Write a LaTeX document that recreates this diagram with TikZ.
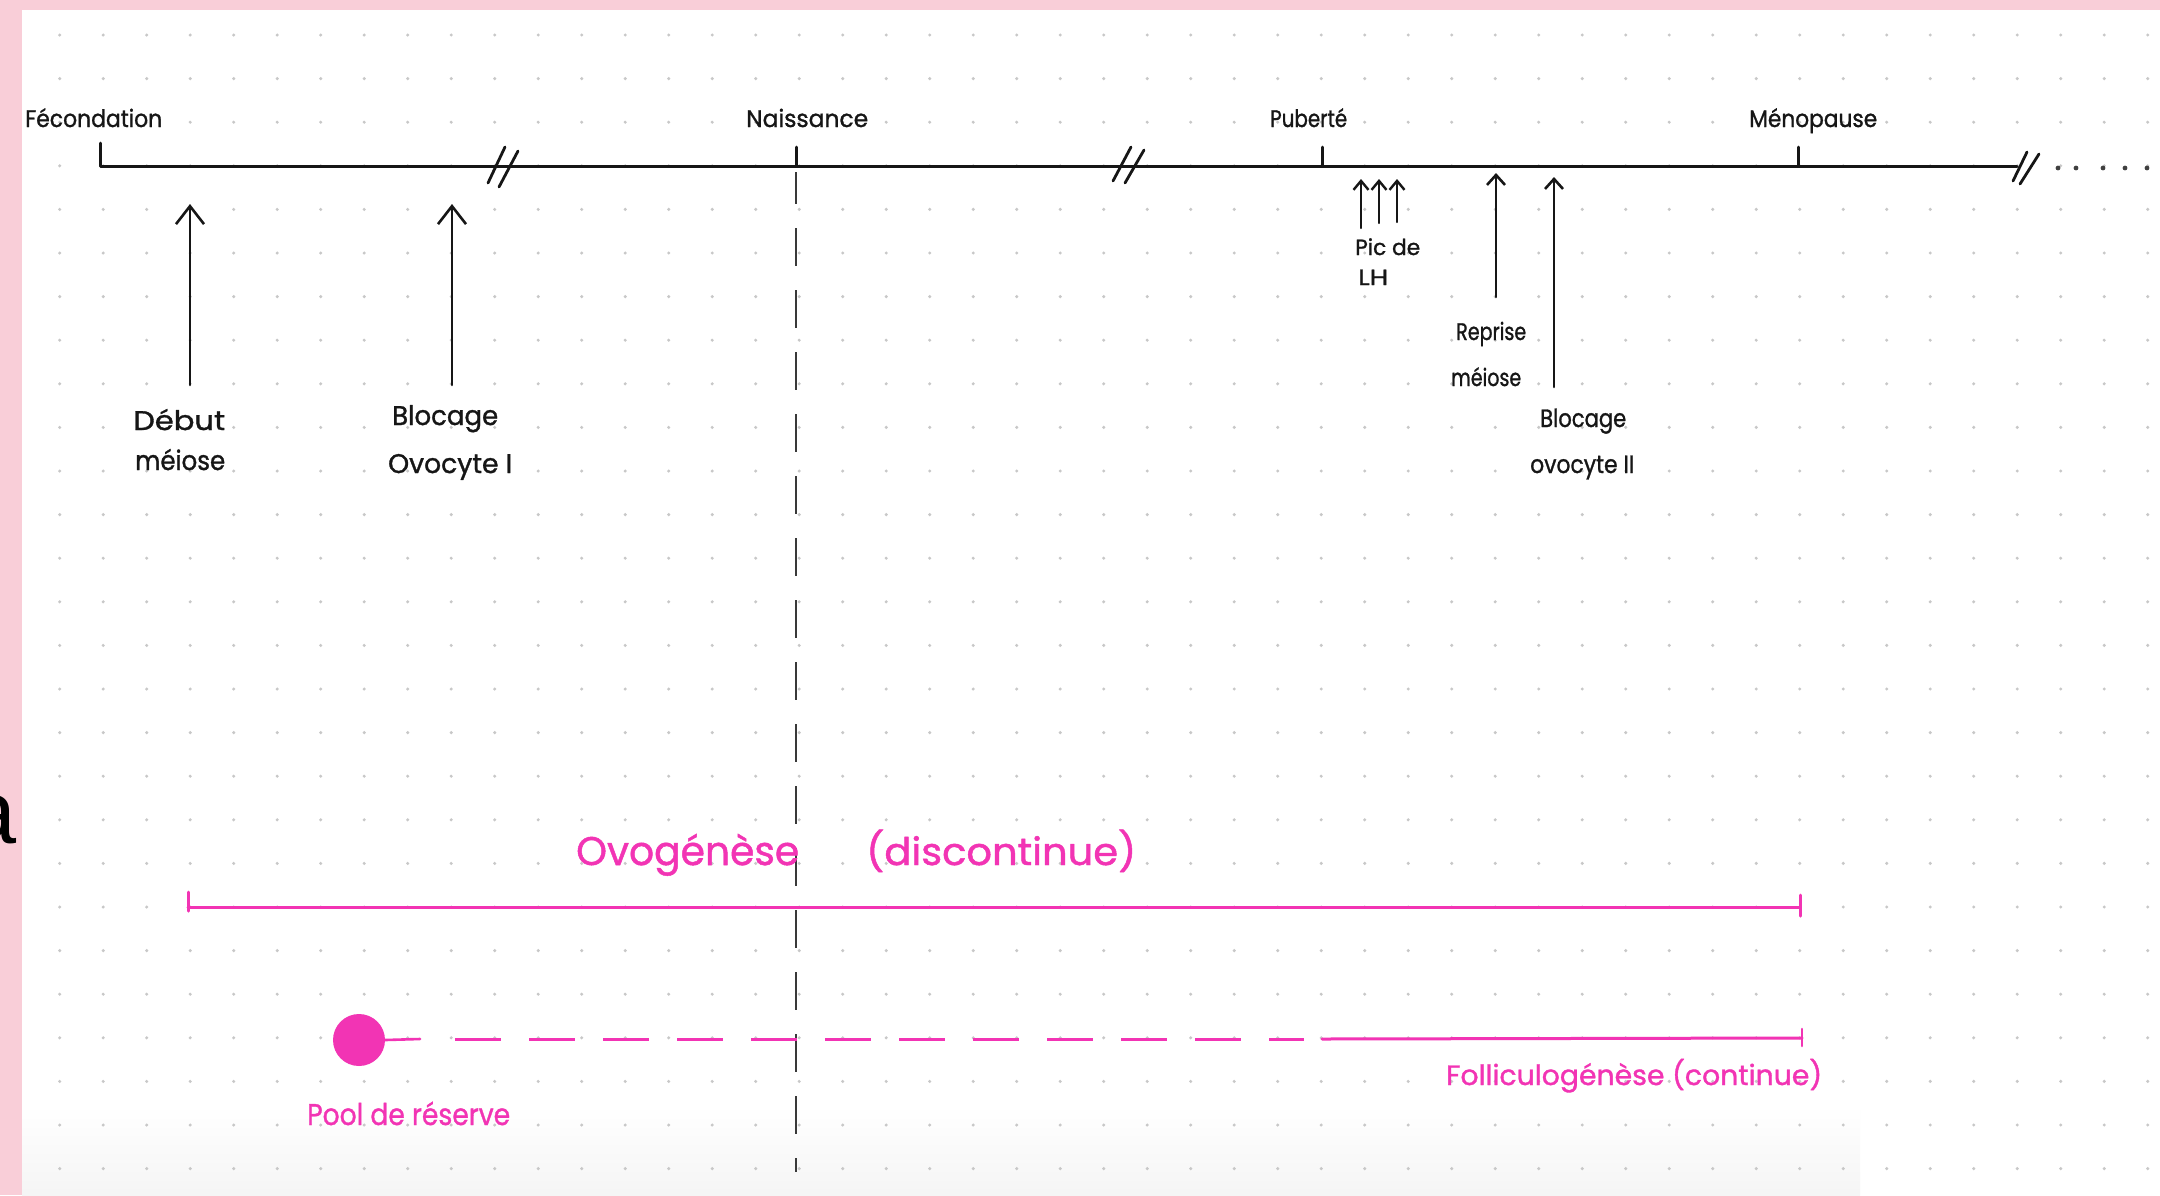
\documentclass[tikz,border=0pt]{standalone}
\usepackage{fontspec}
\usepackage{graphicx}
\newfontfamily\hand[FakeBold=1.2]{Poppins}
\newfontfamily\plain{Liberation Sans}
\usetikzlibrary{arrows.meta}
\definecolor{paper}{RGB}{249,206,216}
\definecolor{ink}{RGB}{22,22,22}
\definecolor{rose}{RGB}{242,52,180}
\definecolor{dotc}{RGB}{200,200,200}
% squeeze a text to a given width, keeping its height
\newcommand\fitto[2]{\resizebox{#1pt}{\height}{#2}}
\tikzset{
  lbl/.style={inner sep=0pt, anchor=base west, text=ink},
  pinklbl/.style={inner sep=0pt, anchor=base west, text=rose},
  fs/.style={font=\hand\fontsize{#1pt}{#1pt}\selectfont},
  axis/.style={draw=ink, line width=3pt},
  brk/.style={draw=ink, line width=2.8pt},
  bigup/.style={draw=ink, line width=2.6pt, -{Straight Barb[length=18pt,width=28pt]}},
  midup/.style={draw=ink, line width=2.6pt, -{Straight Barb[length=10pt,width=18pt]}},
  tinyup/.style={draw=ink, line width=2.4pt, -{Straight Barb[length=9pt,width=15pt]}},
  rline/.style={draw=rose, line width=3pt},
}
\begin{document}
\begin{tikzpicture}[x=1pt, y=-1pt, line cap=round, line join=round]
\useasboundingbox (0,0) rectangle (2160,1195);
\fill[white] (0,0) rectangle (2160,1195);

% soft grey at the foot of the page
\shade[top color=white, bottom color=black!4] (22,1105) rectangle (1860,1195);

% dotted notebook grid
\foreach \j in {0,...,48}
  \foreach \k in {0,...,26}
    \fill[dotc] (59.7+43.5*\j, 35+43.6*\k) circle (1.7);

% pink frame
\fill[paper] (0,0) rectangle (2160,10);
\fill[paper] (0,0) rectangle (22,1195);
\begin{scope}
  \clip (0,0) rectangle (22,1195);
  \node[anchor=base east, inner sep=0pt, text=black,
        font=\plain\fontsize{90pt}{90pt}\selectfont] (cut) at (17,843) {a};
\end{scope}

% ---------- timeline ----------
\coordinate (fecT) at (100,143);
\coordinate (fecB) at (100,166);
\coordinate (axEnd) at (2017,166);
\draw[axis] (fecT) -- (fecB) -- (axEnd);

\coordinate (naiT) at (796,147);  \coordinate (naiB) at (796,166);
\coordinate (pubT) at (1322,147); \coordinate (pubB) at (1322,166);
\coordinate (menT) at (1798,147); \coordinate (menB) at (1798,166);
\draw[axis] (naiT) -- (naiB);
\draw[axis] (pubT) -- (pubB);
\draw[axis] (menT) -- (menB);

% breaks in the time axis
\draw[brk] (488,183) -- (505,147);  \draw[brk] (499,187) -- (518,151);
\draw[brk] (1113,181) -- (1131,147); \draw[brk] (1125,183) -- (1144,150);
\draw[brk] (2013,181) -- (2027,152); \draw[brk] (2020,184) -- (2039,154);

% trailing dots
\foreach \xx in {2058,2076,2103,2125,2147}
  \fill[black!75] (\xx,168) circle (2.4);

% birth: dashed vertical
\coordinate (birthTop) at (796,172);
\coordinate (birthBot) at (796,1172);
\draw[draw=ink!85, line width=2.4pt, line cap=butt, dash pattern=on 38pt off 24pt, dash phase=6pt]
  (birthTop) -- (birthBot);

% axis labels
\node[lbl,fs=24] (fec)  at (25,127)   {\fitto{137}{Fécondation}};
\node[lbl,fs=24] (nai)  at (746,127)  {\fitto{122}{Naissance}};
\node[lbl,fs=24] (pub)  at (1270,127) {\fitto{77}{Puberté}};
\node[lbl,fs=24] (meno) at (1749,127) {\fitto{128}{Ménopause}};

% ---------- events ----------
\node[lbl,fs=27] (deb1) at (133,430) {\fitto{92}{Début}};
\node[lbl,fs=27] (deb2) at (135,470) {\fitto{90}{méiose}};
\coordinate (debS) at (190,385); \coordinate (debE) at (190,204);
\draw[bigup] (debS) -- (debE);

\node[lbl,fs=27] (bl1) at (392,425) {\fitto{106}{Blocage}};
\node[lbl,fs=27] (bl2) at (388,473) {\fitto{124}{Ovocyte I}};
\coordinate (blS) at (452,385); \coordinate (blE) at (452,204);
\draw[bigup] (blS) -- (blE);

\node[lbl,fs=22] (pic1) at (1355,255) {\fitto{65}{Pic de}};
\node[lbl,fs=22] (pic2) at (1358,285) {\fitto{30}{LH}};
\coordinate (lhS1) at (1361,228); \coordinate (lhE1) at (1361,179);
\coordinate (lhS2) at (1379,223); \coordinate (lhE2) at (1379,179);
\coordinate (lhS3) at (1397,222); \coordinate (lhE3) at (1397,179);
\draw[tinyup] (lhS1) -- (lhE1);
\draw[tinyup] (lhS2) -- (lhE2);
\draw[tinyup] (lhS3) -- (lhE3);

\node[lbl,fs=24] (rep1) at (1456,340) {\fitto{70}{Reprise}};
\node[lbl,fs=24] (rep2) at (1451,386) {\fitto{70}{méiose}};
\coordinate (repS) at (1496,297); \coordinate (repE) at (1496,173);
\draw[midup] (repS) -- (repE);

\node[lbl,fs=25] (bo1) at (1540,427) {\fitto{86}{Blocage}};
\node[lbl,fs=25] (bo2) at (1530,473) {\fitto{104}{ovocyte II}};
\coordinate (boS) at (1554,387); \coordinate (boE) at (1554,177);
\draw[midup] (boS) -- (boE);

% ---------- oogenesis span ----------
\node[pinklbl,fs=40] (ovo)  at (576,865) {\fitto{223}{Ovogénèse}};
\node[pinklbl,fs=38] (disc) at (866,865) {\fitto{270}{(discontinue)}};
\coordinate (ovoL) at (188,907); \coordinate (ovoR) at (1800,907);
\draw[rline] (188,892) -- (188,911);
\draw[rline] (ovoL) -- (ovoR);
\draw[rline] (1800,895) -- (1800,916);

% ---------- follicle pool ----------
\node[circle, fill=rose, minimum size=52pt, inner sep=0pt] (pooldot) at (359,1040) {};
\coordinate (p1) at (420,1039);
\coordinate (p2) at (455,1039);
\coordinate (p3) at (1304,1039);
\coordinate (p4) at (1322,1039);
\coordinate (p5) at (1802,1038);
\draw[rline, line width=2.6pt] (pooldot.east) -- (p1);
\draw[rline, line cap=butt, dash pattern=on 46pt off 28pt] (p2) -- (p3);
\draw[rline] (p4) -- (p5);
\draw[rline, line width=2.6pt] (1802,1029) -- (1802,1046);

\node[pinklbl,fs=30] (pool) at (307,1125) {\fitto{203}{Pool de réserve}};
\node[pinklbl,fs=28] (fol)  at (1446,1085) {\fitto{376}{Folliculogénèse (continue)}};
\end{tikzpicture}
\end{document}
